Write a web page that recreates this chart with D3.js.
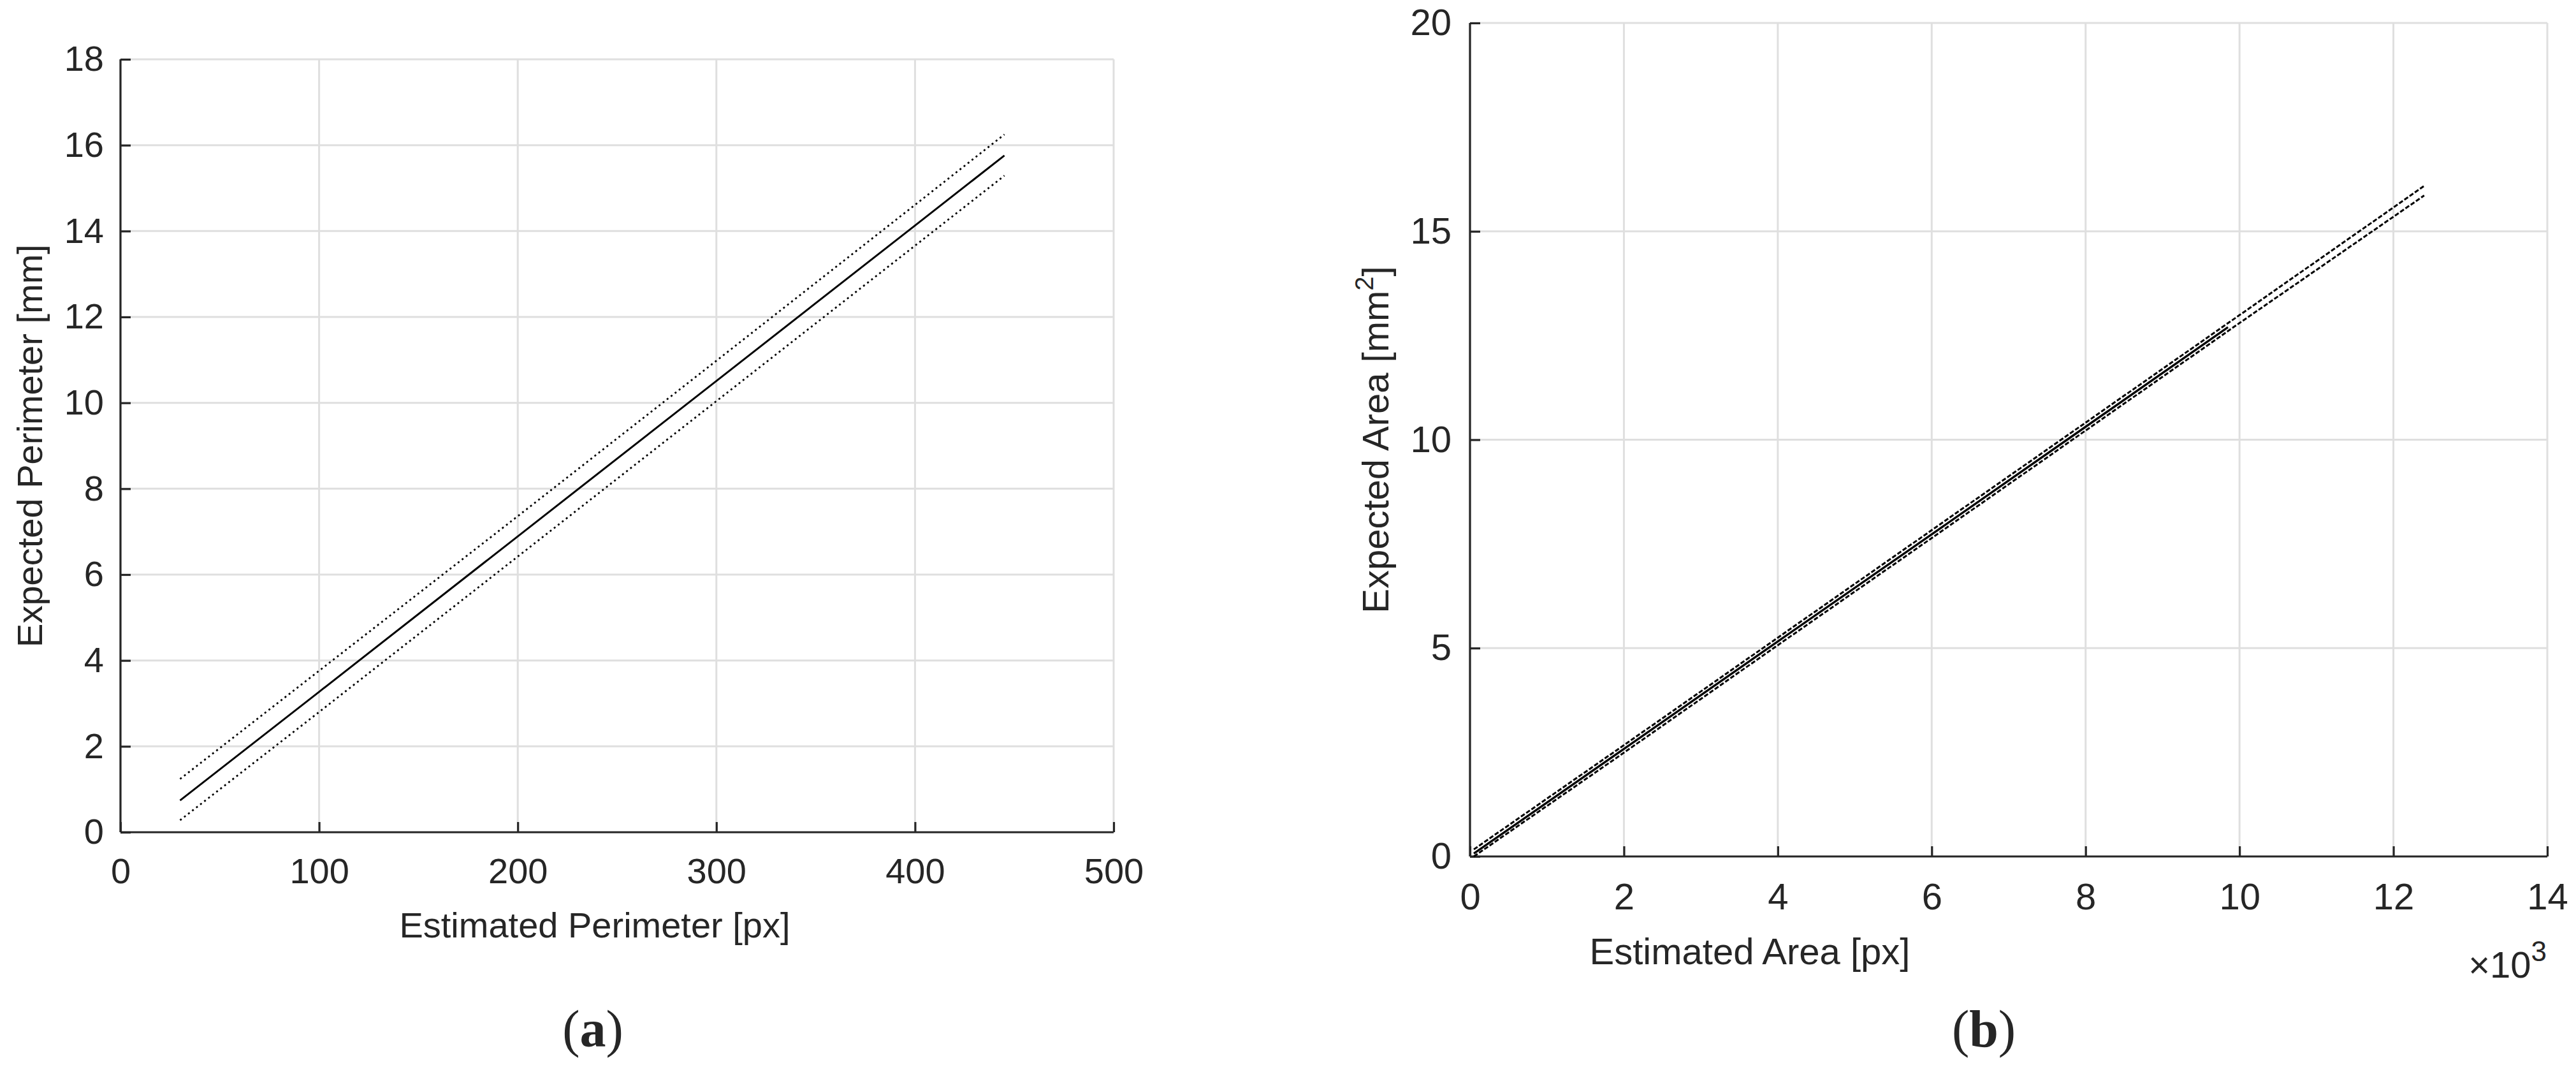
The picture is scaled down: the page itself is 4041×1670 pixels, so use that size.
<!DOCTYPE html>
<html>
<head>
<meta charset="utf-8">
<script src="https://cdn.jsdelivr.net/npm/d3@7"></script>
<style>
	body { margin: 0; background: #fff; }
	text { font-family: "Liberation Sans", Arial, sans-serif; fill: #262626; }
</style>
</head>
<body>
<svg id="fig" width="4041" height="1670"></svg>
<script>
// Calibration curves: perimeter (a) and area (b)

// (a) perimeter
var perimX = [30, 100, 200, 300, 400, 445];
var perimFit = [0.74, 3.27, 6.89, 10.51, 14.13, 15.76];
var perimUpper = [1.24, 3.76, 7.36, 10.98, 14.61, 16.25];
var perimLower = [0.28, 2.80, 6.42, 10.04, 13.66, 15.29];
var perimXTicks = [0, 100, 200, 300, 400, 500];
var perimYTicks = [0, 2, 4, 6, 8, 10, 12, 14, 16, 18];

// (b) area
var areaX = [50, 2000, 4000, 6000, 8000, 9850];
var areaFit = [0.07, 2.58, 5.16, 7.73, 10.31, 12.70];
var areaBoundX = [50, 2000, 4000, 6000, 8000, 10000, 12400];
var areaUpper = [0.17, 2.67, 5.25, 7.83, 10.41, 12.99, 16.09];
var areaLower = [0.0, 2.49, 5.07, 7.64, 10.22, 12.80, 15.86];
var areaXTicks = [0, 2000, 4000, 6000, 8000, 10000, 12000, 14000];
var areaYTicks = [0, 5, 10, 15, 20];

var svg = d3.select('#fig');
var gridColor = "#dfdfdf";
var axisColor = "#262626";
var tickLen = 16;

function drawPanel(cfg) {
	let x = d3.scaleLinear().domain(cfg.xDomain).range([cfg.left, cfg.right]);
	let y = d3.scaleLinear().domain(cfg.yDomain).range([cfg.bottom, cfg.top]);
	let g = svg.append("g");

	// grid
	g.selectAll("line.gx")
		.data(cfg.xTicks)
		.enter()
		.append("line")
		.attr("x1", d => x(d)).attr("x2", d => x(d))
		.attr("y1", cfg.top).attr("y2", cfg.bottom)
		.attr("stroke", gridColor)
		.attr("stroke-width", 3);
	g.selectAll("line.gy")
		.data(cfg.yTicks)
		.enter()
		.append("line")
		.attr("y1", d => y(d)).attr("y2", d => y(d))
		.attr("x1", cfg.left).attr("x2", cfg.right)
		.attr("stroke", gridColor)
		.attr("stroke-width", 3);

	// axes (left + bottom only), ticks pointing inward
	let xAxis = d3.axisBottom(x)
		.tickValues(cfg.xTicks)
		.tickSize(-tickLen)
		.tickPadding(cfg.xPad)
		.tickFormat(cfg.xFormat);
	let yAxis = d3.axisLeft(y)
		.tickValues(cfg.yTicks)
		.tickSize(-tickLen)
		.tickPadding(cfg.yPad)
		.tickFormat(d3.format("d"));
	let gx = g.append("g")
		.attr("transform", "translate(0," + cfg.bottom + ")")
		.call(xAxis);
	let gy = g.append("g")
		.attr("transform", "translate(" + cfg.left + ",0)")
		.call(yAxis);
	[gx, gy].forEach(function(a) {
		a.select(".domain").attr("stroke", axisColor).attr("stroke-width", 3.2);
		a.selectAll(".tick line").attr("stroke", axisColor).attr("stroke-width", 3.2);
		a.selectAll(".tick text")
			.attr("fill", axisColor)
			.style("font-size", cfg.fontSize + "px")
			.style("font-family", '"Liberation Sans", Arial, sans-serif');
	});
	gx.select(".domain").attr("d", "M" + cfg.left + ",0H" + cfg.right);
	gy.select(".domain").attr("d", "M0," + cfg.bottom + "V" + cfg.top);

	// lines
	let line = d3.line();
	cfg.series.forEach(function(s) {
		let pts = s.xs.map((v, i) => [x(v), y(s.ys[i])]);
		g.append("path")
			.attr("d", line(pts))
			.attr("fill", "none")
			.attr("stroke", "#000")
			.attr("stroke-width", s.width)
			.attr("stroke-dasharray", s.dash);
	});
	return g;
}

// panel (a)
var gA = drawPanel({
	left: 189, right: 1747, top: 93, bottom: 1305,
	xDomain: [0, 500], yDomain: [0, 18],
	xTicks: perimXTicks, yTicks: perimYTicks,
	xFormat: d3.format("d"), xPad: 40, yPad: 26, fontSize: 56,
	series: [
		{ xs: perimX, ys: perimFit, width: 3, dash: null },
		{ xs: perimX, ys: perimUpper, width: 2.8, dash: "3,5" },
		{ xs: perimX, ys: perimLower, width: 2.8, dash: "3,5" }
	]
});

gA.append("text")
	.attr("x", 933).attr("y", 1470)
	.attr("text-anchor", "middle")
	.style("font-size", "56px")
	.text("Estimated Perimeter [px]");
gA.append("text")
	.attr("transform", "translate(66," + ((93 + 1305) / 2) + ") rotate(-90)")
	.attr("text-anchor", "middle")
	.style("font-size", "56px")
	.text("Expected Perimeter [mm]");

// panel (b)
var gB = drawPanel({
	left: 2306, right: 3996, top: 36, bottom: 1343,
	xDomain: [0, 14000], yDomain: [0, 20],
	xTicks: areaXTicks, yTicks: areaYTicks,
	xFormat: d => d / 1000, xPad: 42, yPad: 29, fontSize: 58,
	series: [
		{ xs: areaX, ys: areaFit, width: 3.4, dash: null },
		{ xs: areaBoundX, ys: areaUpper, width: 3, dash: "7,3" },
		{ xs: areaBoundX, ys: areaLower, width: 3, dash: "7,3" }
	]
});

gB.append("text")
	.attr("x", 2745).attr("y", 1512)
	.attr("text-anchor", "middle")
	.style("font-size", "58px")
	.text("Estimated Area [px]");

var yLabB = gB.append("text")
	.attr("transform", "translate(2178," + ((36 + 1343) / 2) + ") rotate(-90)")
	.attr("text-anchor", "middle")
	.style("font-size", "58px");
yLabB.append("tspan").text("Expected Area [mm");
yLabB.append("tspan").attr("dy", -24).style("font-size", "40px").text("2");
yLabB.append("tspan").attr("dy", 24).text("]");

var expo = gB.append("text")
	.attr("x", 3995).attr("y", 1533)
	.attr("text-anchor", "end")
	.style("font-size", "58px");
expo.append("tspan").text("\u00d710");
expo.append("tspan").attr("dy", -26).style("font-size", "44px").text("3");

// sub-figure captions
svg.selectAll("text.cap")
	.data([["(a)", 930], ["(b)", 3112]])
	.enter()
	.append("text")
	.attr("x", d => d[1])
	.attr("y", 1641)
	.attr("text-anchor", "middle")
	.style("font-family", '"Liberation Serif", "Times New Roman", serif')
	.style("font-size", "82px")
	.each(function(d) {
		let t = d3.select(this);
		t.append("tspan").style("font-weight", "normal").text("(");
		t.append("tspan").style("font-weight", "bold").text(d[0].charAt(1));
		t.append("tspan").style("font-weight", "normal").text(")");
	});
</script>
</body>
</html>
